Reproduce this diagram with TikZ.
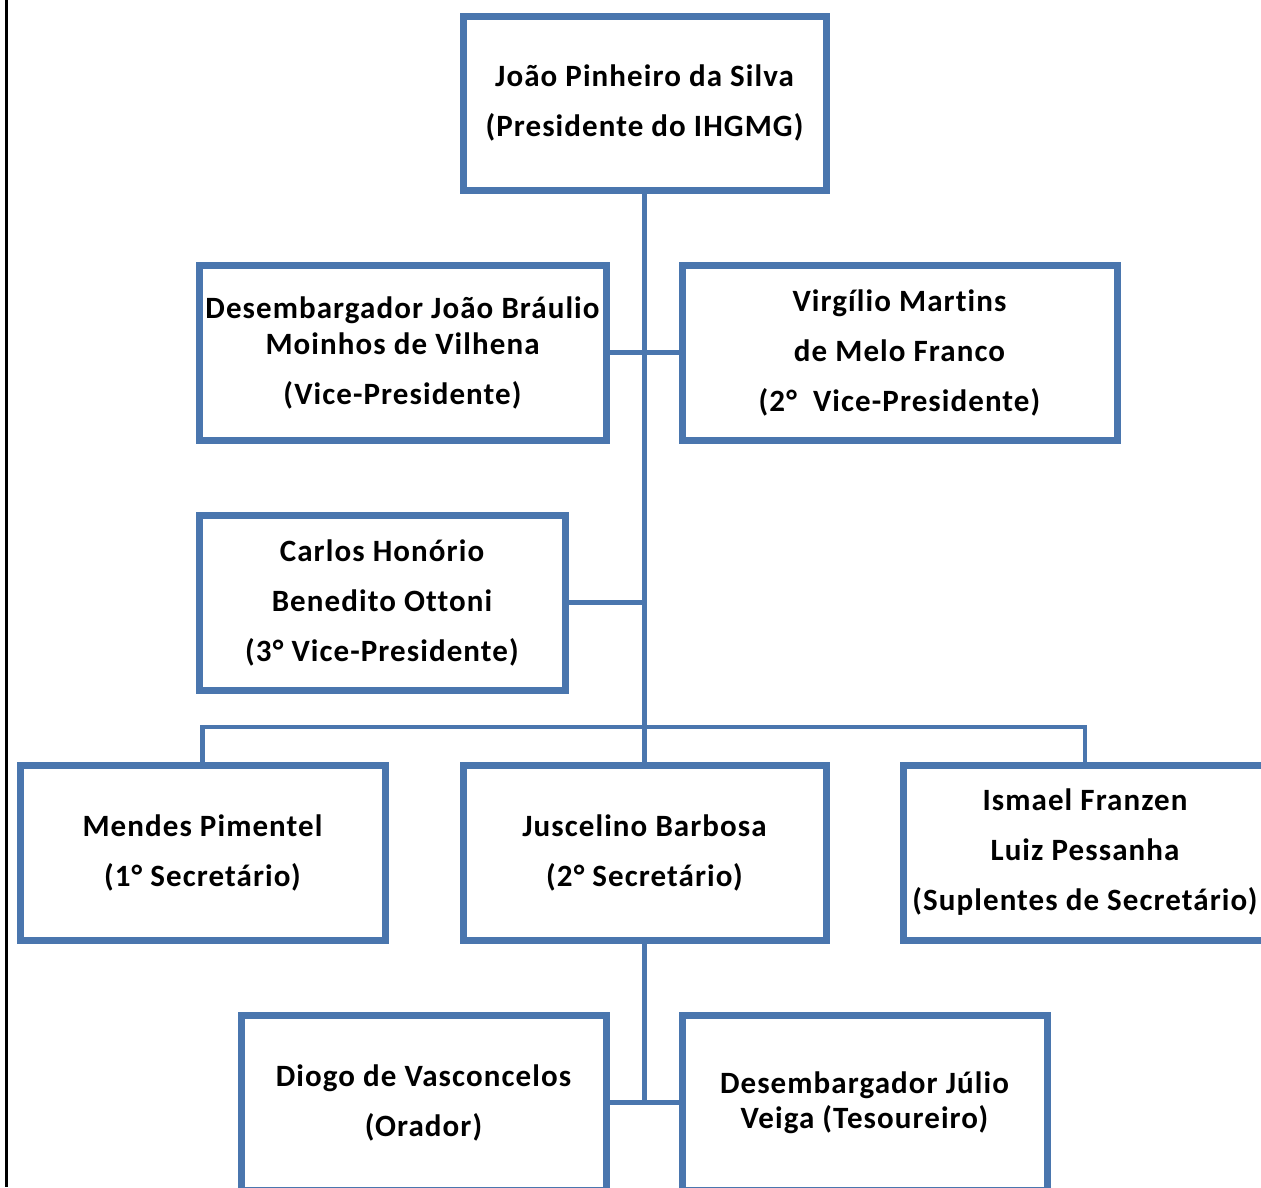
\documentclass[tikz,border=0pt]{standalone}
\usepackage{fontspec}
\setmainfont{Carlito}[LetterSpace=3.5,Ligatures=NoCommon]
\usetikzlibrary{shadows}
\definecolor{boxblue}{RGB}{74,118,174}
\tikzset{
  orgbox/.style={draw=boxblue, line width=7pt, fill=white, rectangle,
    minimum width=363pt, minimum height=174pt, align=center, inner sep=0pt,
    font=\fontsize{31}{50}\selectfont\bfseries,
    drop shadow={opacity=0.25, shadow xshift=2pt, shadow yshift=-3pt}},
  link/.style={draw=boxblue, line width=4.5pt}
}
\begin{document}
\begin{tikzpicture}[x=1pt,y=-1pt]
\useasboundingbox (0,0) rectangle (1261,1187);
\clip (0,0) rectangle (1261,1187);
\fill[white] (0,0) rectangle (1261,1187);
\draw[black, line width=2.5pt] (6.5,0) -- (6.5,1187);
% boxes
\node[orgbox] (top) at (644.5,103) {João Pinheiro da Silva\\(Presidente do IHGMG)};
\node[orgbox, minimum width=407pt, minimum height=175pt] (vp1) at (402.5,352.5) {Desembargador João Bráulio\\[-14pt]Moinhos de Vilhena\\(Vice-Presidente)};
\node[orgbox, minimum width=435pt, minimum height=175pt] (vp2) at (899.5,352.5) {Virgílio Martins\\de Melo Franco\\(2°\ \ Vice-Presidente)};
\node[orgbox, minimum width=366pt, minimum height=175pt] (vp3) at (382,602.5) {Carlos Honório\\Benedito Ottoni\\(3° Vice-Presidente)};
\node[orgbox, minimum width=365pt, minimum height=175pt] (sec1) at (202.5,852.5) {Mendes Pimentel\\(1° Secretário)};
\node[orgbox, minimum height=175pt] (sec2) at (644.5,852.5) {Juscelino Barbosa\\(2° Secretário)};
\node[orgbox, minimum width=364pt, minimum height=175pt] (sup) at (1085,852.5) {Ismael Franzen\\Luiz Pessanha\\(Suplentes de Secretário)};
\node[orgbox, minimum width=365pt, minimum height=175pt] (ora) at (423.5,1102.5) {Diogo de Vasconcelos\\(Orador)};
\node[orgbox, minimum width=365pt, minimum height=175pt] (tes) at (864.5,1102.5) {Desembargador Júlio\\[-15pt]Veiga (Tesoureiro)};
% connectors
\coordinate (bus) at (sec2.north |- 0,727);
\draw[link] (top.south) -- (sec2.north);
\draw[link] (vp1.east) -- (vp2.west);
\draw[link] (vp3.east) -- (vp3.east -| top.south);
\draw[link] (sec1.north) |- (bus) -| (sup.north);
\draw[link] (sec2.south) -- (sec2.south |- ora.east);
\draw[link] (ora.east) -- (tes.west);
\end{tikzpicture}
\end{document}
